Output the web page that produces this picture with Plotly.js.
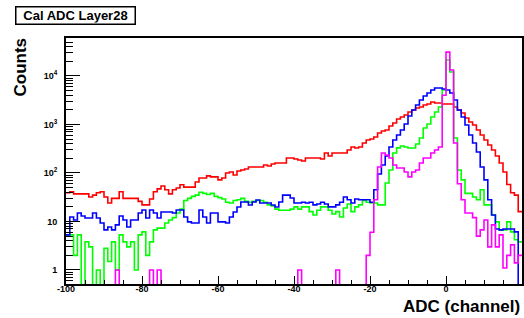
<!DOCTYPE html>
<html><head><meta charset="utf-8">
<script src="https://cdn.plot.ly/plotly-3.0.1.min.js"></script>
<style>html,body{margin:0;padding:0;background:#fff;overflow:hidden}#chart{width:524px;height:318px}</style>
</head><body><div id="chart"></div>
<script>
// Histogram binning: 120 bins of width 1 channel, starting at -100
const binLow = -100;
const binWidth = 1;

// Counts per bin (index 0 = channel -100 ... index 119 = channel 19)
const redCounts = [
  39, 41, 37, 37, 37, 37, 32, 35, 39, 41,
  32, 24, 30, 30, 41, 30, 30, 30, 30, 26,
  22, 22, 29, 41, 47, 54, 45, 37, 45, 49,
  57, 51, 51, 51, 65, 79, 79, 87, 83, 83,
  72, 79, 100, 105, 91, 110, 115, 121, 133, 133,
  133, 133, 146, 139, 153, 161, 161, 161, 204, 204,
  194, 185, 177, 204, 204, 204, 204, 194, 258, 224,
  258, 258, 258, 258, 298, 344, 327, 344, 416, 479,
  503, 553, 668, 735, 771, 932, 1073, 1298, 1428, 1570,
  1811, 1990, 2188, 2295, 2523, 2647, 2911, 2776, 2776, 2647,
  2647, 2647, 2295, 1990, 1726, 1361, 1125, 977, 771, 608,
  479, 378, 298, 224, 161, 105, 58, 39, 35, 16
];
const blueCounts = [
  5.3, 12.4, 10.7, 15, 13, 11.8, 11.8, 15, 11.8, 9.3,
  6.7, 7.7, 6.7, 8.5, 13, 10.7, 7.7, 10.7, 10.7, 15,
  17.3, 11.8, 17.3, 15, 11.8, 15.7, 15.7, 15.7, 15, 17.3,
  17.3, 12.4, 9.8, 9.3, 9.3, 17.3, 12.4, 9.3, 15, 15,
  9.8, 9.8, 9.3, 12.4, 15.7, 19.9, 25.2, 25.2, 21.9, 25.2,
  27.7, 24, 24, 24, 21.9, 19.9, 25.2, 35, 35, 30.5,
  24, 24, 25, 24, 25, 22, 23, 25, 23, 20,
  20, 22, 25, 32, 28, 24, 29, 28, 28, 28,
  25, 45, 95, 146, 224, 344, 479, 608, 771, 1024,
  1497, 1990, 2523, 3200, 3870, 4460, 5140, 5660, 5660, 5400,
  5140, 4460, 3200, 1990, 1428, 977, 608, 416, 271, 133,
  72, 28, 13.6, 7, 6.7, 7, 7, 7, 6.1, 0
];
const greenCounts = [
  5.3, 5.3, 2, 5.3, 0, 3.8, 3, 0, 1, 0,
  2.8, 1.5, 3.8, 1, 5.3, 3.8, 3, 3.8, 1, 5.3,
  6.1, 2, 3.8, 6.7, 7.3, 7.3, 9.3, 10.7, 12, 15,
  18, 27, 30, 33, 35, 40, 38, 36, 38, 33,
  31, 29, 25, 24, 27, 28, 30, 26, 25, 26,
  27, 27, 25, 22, 21, 18, 17, 17, 17, 18,
  20, 18, 20, 20, 16, 13.6, 17, 20, 20, 17,
  14.3, 16, 12.4, 19, 23, 16, 20, 22, 27, 25,
  24, 24, 22, 22, 62, 115, 258, 330, 361, 344,
  327, 327, 395, 528, 848, 1024, 1428, 1811, 2295, 5140,
  21300, 12100, 528, 115, 72, 38, 38, 32, 28, 45,
  22, 22, 13.6, 9.8, 6.7, 6.7, 9.8, 6.1, 4.2, 3.8
];
const magentaCounts = [
  0, 0, 0, 0, 0, 0, 0, 0, 0, 0,
  0, 0, 0, 1, 0, 0, 0, 0, 0, 0,
  0, 0, 1, 0, 1, 0, 0, 0, 0, 0,
  0, 0, 0, 0, 0, 0, 0, 0, 0, 0,
  0, 0, 0, 0, 0, 0, 0, 0, 0, 0,
  0, 0, 0, 0, 0, 0, 0, 0, 0, 0,
  0, 1, 0, 0, 0, 0, 0, 0, 0, 0,
  0, 1, 0, 0, 0, 0, 0, 0, 0, 2,
  6, 28, 133, 258, 234, 204, 146, 127, 127, 105,
  83, 105, 115, 161, 204, 204, 258, 298, 344, 4000,
  31000, 13300, 416, 60, 28, 15, 15, 12, 5, 6.7,
  10.7, 3, 8.5, 3, 5.3, 1.1, 2, 3.3, 1.4, 2
];

const xTickVals = [-100, -80, -60, -40, -20, 0, 20];
const xTickText = ['-100', '-80', '-60', '-40', '-20', '0', '20'];
const yTickVals = [1, 10, 100, 1000, 10000];
const yTickText = ['1', '10', '10<sup>2</sup>', '10<sup>3</sup>', '10<sup>4</sup>'];

const FONT = 'Liberation Sans, Arial, Helvetica, sans-serif';

function histTrace(counts, color) {
  const x = [], y = [];
  for (let i = 0; i < counts.length; i++) {
    x.push(binLow + i * binWidth);
    y.push(counts[i] > 0 ? counts[i] : 1e-3); // empty bins drop below the axis
  }
  x.push(binLow + counts.length * binWidth);
  y.push(y[y.length - 1]);
  return {type: 'scatter', mode: 'lines', x: x, y: y,
          line: {shape: 'hv', color: color, width: 1.6},
          hoverinfo: 'skip', showlegend: false};
}

// minor log ticks 2..9 of every decade
const yMinor = [];
for (let d = -1; d <= 4; d++) for (let k = 2; k <= 9; k++) yMinor.push(k * Math.pow(10, d));

const L = 66, R = 2, T = 38, B = 34, W = 524, H = 318;
const pw = W - L - R, ph = H - T - B;
const px = v => (v - L) / pw;
const py = v => (H - B - v) / ph;

const data = [
  histTrace(redCounts, '#ff0000'),
  histTrace(greenCounts, '#00ff00'),
  histTrace(blueCounts, '#0000ff'),
  histTrace(magentaCounts, '#ff00ff')
];

const layout = {
  width: W, height: H,
  margin: {l: L, r: R, t: T, b: B, pad: 0},
  paper_bgcolor: '#fff', plot_bgcolor: '#fff',
  font: {family: FONT, color: '#000'},
  showlegend: false,
  xaxis: {
    range: [-100, 20], tickmode: 'array', tickvals: xTickVals, ticktext: xTickText,
    ticks: 'inside', ticklen: 8, tickwidth: 1, tickcolor: '#000',
    minor: {ticks: 'inside', ticklen: 4, tickwidth: 1, tickcolor: '#000', dtick: 5, tick0: 0},
    showline: true, linecolor: '#000', linewidth: 2, mirror: true,
    showgrid: false, zeroline: false,
    tickfont: {family: FONT, size: 9, color: '#000', weight: 'bold'}, ticklabelstandoff: -5
  },
  yaxis: {
    type: 'log', range: [-0.289, 4.783], tickmode: 'array', tickvals: yTickVals, ticktext: yTickText,
    ticks: 'inside', ticklen: 14, tickwidth: 1, tickcolor: '#000',
    minor: {ticks: 'inside', ticklen: 7, tickwidth: 1, tickcolor: '#000', tickmode: 'array', tickvals: yMinor},
    showline: true, linecolor: '#000', linewidth: 2, mirror: true,
    showgrid: false, zeroline: false,
    tickfont: {family: FONT, size: 9, color: '#000', weight: 'bold'}, ticklabelstandoff: 5
  },
  annotations: [
    {text: '<b>Cal ADC Layer28</b>', xref: 'paper', yref: 'paper',
     x: px(75), y: py(15.5), xanchor: 'center', yanchor: 'middle', showarrow: false,
     font: {family: FONT, size: 13, color: '#000'},
     bordercolor: '#000', borderwidth: 1.5, borderpad: 1, bgcolor: '#fff', width: 116, height: 14},
    {text: '<b>Counts</b>', xref: 'paper', yref: 'paper', textangle: -90,
     x: px(20), y: py(67.5), xanchor: 'center', yanchor: 'middle', showarrow: false,
     font: {family: FONT, size: 17, color: '#000'}},
    {text: '<b>ADC (channel)</b>', xref: 'paper', yref: 'paper',
     x: 1, y: py(306), xanchor: 'right', yanchor: 'middle', showarrow: false,
     font: {family: FONT, size: 17, color: '#000'}}
  ]
};

Plotly.newPlot('chart', data, layout, {staticPlot: true, displayModeBar: false});
</script>
</body></html>
